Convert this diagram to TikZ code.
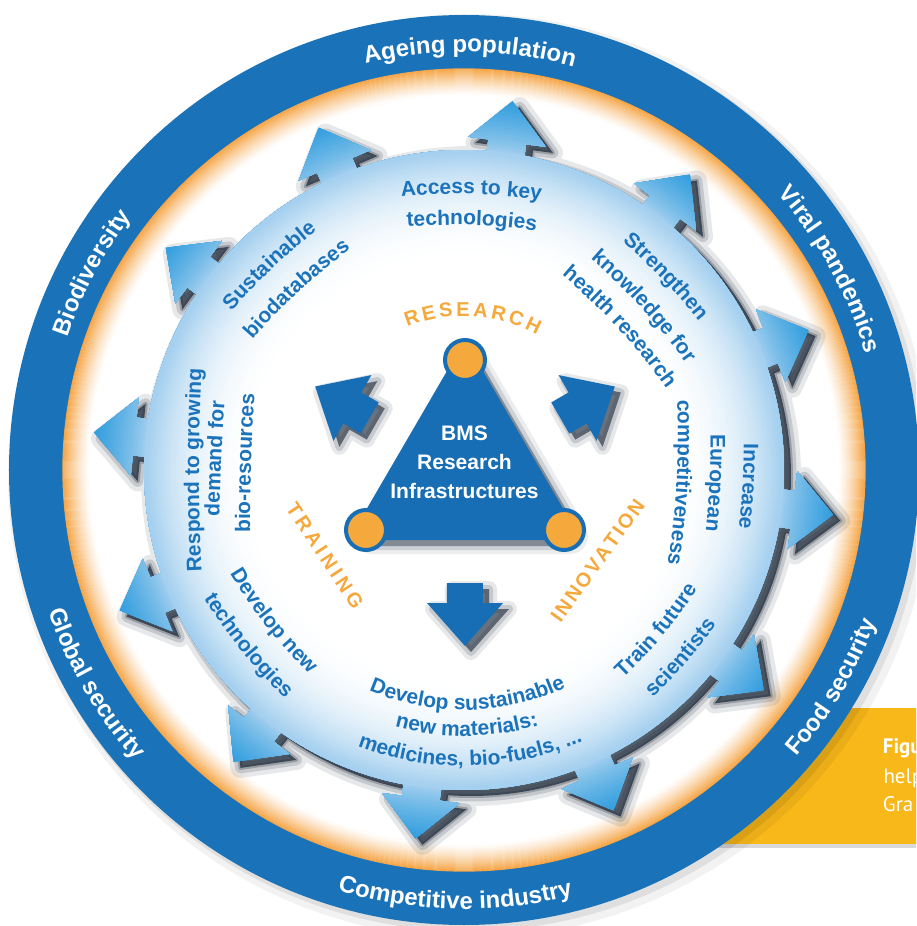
\documentclass[tikz,border=0pt]{standalone}
\usepackage{fontspec}
\setmainfont{Liberation Sans}
\newfontfamily\capfont{PT Sans}
\usetikzlibrary{decorations.text}
\definecolor{ringblue}{RGB}{26,115,185}
\definecolor{triblue}{RGB}{24,110,180}
\definecolor{txtblue}{RGB}{27,115,187}
\definecolor{orng}{RGB}{245,168,60}
\definecolor{glow}{RGB}{245,165,70}
\definecolor{diskedge}{RGB}{165,208,239}
\definecolor{tipblue}{RGB}{50,158,222}
\definecolor{shad}{RGB}{22,35,52}
\definecolor{gold}{RGB}{249,184,26}

\newcommand{\infmt}{\color{txtblue}\bfseries\fontsize{21}{21}\selectfont}
\newcommand{\ringfmt}{\color{white}\bfseries\fontsize{24}{24}\selectfont}
\newcommand{\orfmt}{\color{orng}\bfseries\fontsize{20}{20}\selectfont}

\newcommand{\gearpath}{([rotate=-247]319.435,-19) \foreach \a/\b in {-247/-216.7,-216.7/-185.8,-185.8/-157.8,-157.8/-128.3,-128.3/-97.5,-97.5/-66.3,-66.3/-36.3,-36.3/-6.9,-6.9/22.1,22.1/52.6,52.6/82.5,82.5/113}{ -- ([rotate=\a]331,-19) -- ([rotate=\a]331,-39) -- ([rotate=\a]372,0) -- ([rotate=\a]331,39) -- ([rotate=\a]331,19) -- ([rotate=\a]319.435,19) arc[start angle=\a+3.404,end angle=\b-3.404,radius=320]} -- cycle}
\newcommand{\trianglepath}{(1,110) -- (-98,-60) -- (100,-60) -- cycle}
\newcommand{\inarrowpath}{(110,-18) -- (130,-18) -- (130,-38) -- (173,0) -- (130,38) -- (130,18) -- (110,18) -- cycle}

% #1 mid angle, #2 baseline radius, #3 curvature radius, #4 1=clockwise/-1=counterclockwise, #5 format, #6 text
\newcommand{\arclabel}[6]{%
  \pgfmathsetmacro{\alOx}{(#2-#3)*cos(#1)}%
  \pgfmathsetmacro{\alOy}{(#2-#3)*sin(#1)}%
  \pgfmathsetmacro{\alD}{min(80,9740/#3)}%
  \pgfmathsetmacro{\alSa}{#1+(#4)*\alD}%
  \pgfmathsetmacro{\alEa}{#1-(#4)*\alD}%
  \pgfmathsetmacro{\alSx}{\alOx+#3*cos(\alSa)}%
  \pgfmathsetmacro{\alSy}{\alOy+#3*sin(\alSa)}%
  \path[decorate,decoration={text along path,text align=center,text={|#5|#6}}] (\alSx,\alSy) arc[start angle=\alSa,end angle=\alEa,radius=#3];%
}

\tikzset{
  captext/.style={anchor=base west, inner sep=0pt, text=white, font=\capfont\fontsize{21}{21}\selectfont},
  tritext/.style={anchor=base, inner sep=0pt, text=white, font=\bfseries\fontsize{21}{21}\selectfont},
  vtx/.style={circle, fill=orng, draw=triblue, line width=4pt, minimum size=40pt, inner sep=0pt},
  shadowline/.style={shad, line join=round},
}

\begin{document}
\begin{tikzpicture}[x=1pt,y=1pt]
\useasboundingbox (-464,-456) rectangle (452,470);
\fill[white] (-464,-456) rectangle (452,470);

% caption box (cut by the page edge)
\begin{scope}
  \clip (-464,-456) rectangle (452,470);
  \fill[black,opacity=0.15] (228,-242) rectangle (470,-378);
  \fill[gold] (226,-238) rectangle (470,-374);
  \node[captext,font=\capfont\bfseries\fontsize{21}{21}\selectfont] (cap1) at (418.7,-283) {Figu};
  \node[captext] (cap2) at (419.3,-313) {help};
  \node[captext] (cap3) at (418.7,-341) {Gra};
  \fill[black,opacity=0.05] (6,-6) circle[radius=462];
  \fill[black,opacity=0.08] (4,-4) circle[radius=457];
\end{scope}

% outer ring
\fill[ringblue] (0,0) circle[radius=455];
\fill[white] (0,0) circle[radius=401];
\foreach \i in {0,...,26}{\pgfmathsetmacro{\glowpc}{100*(1-\i/27)^1.3}\draw[glow!\glowpc!white,line width=1.3pt] (0,0) circle[radius=401-\i];}

% gear shadow
\begin{scope}[shift={(7,-6)}]
  \draw[shadowline,opacity=0.10,line width=20pt] \gearpath;
  \draw[shadowline,opacity=0.16,line width=11pt] \gearpath;
  \draw[shadowline,opacity=0.25,line width=4pt] \gearpath;
  \fill[shad,opacity=0.7] \gearpath;
\end{scope}

% gear fill
\begin{scope}
  \clip \gearpath;
  \fill[tipblue] (0,0) circle[radius=380];
  \foreach \r in {372,370,...,320}{\pgfmathsetmacro{\glowpc}{100*((\r-320)/52)^0.8}\fill[tipblue!\glowpc!diskedge] (0,0) circle[radius=\r];}
  \foreach \r in {318,316,...,210}{\pgfmathsetmacro{\glowpc}{100*((\r-208)/110)^2.2}\fill[diskedge!\glowpc!white] (0,0) circle[radius=\r];}
\end{scope}

% inner texts
\arclabel{88.5}{276}{600}{1}{\infmt}{Access to key}
\arclabel{88.2}{245}{600}{1}{\infmt}{technologies}
\arclabel{133.6}{278}{600}{1}{\infmt}{Sustainable}
\arclabel{132.8}{243}{600}{1}{\infmt}{biodatabases}
\arclabel{43.8}{275}{600}{1}{\infmt}{Strengthen}
\arclabel{42.3}{240}{600}{1}{\infmt}{knowledge for}
\arclabel{42.6}{209}{600}{1}{\infmt}{health research}
\arclabel{180}{265}{2000}{1}{\infmt}{Respond to growing}
\arclabel{177.4}{243}{2000}{1}{\infmt}{demand for}
\arclabel{178.2}{213}{2000}{1}{\infmt}{bio-resources}
\arclabel{-3.3}{279}{800}{1}{\infmt}{Increase}
\arclabel{-2.9}{246}{800}{1}{\infmt}{European}
\arclabel{-3.3}{213}{800}{1}{\infmt}{competitiveness}
\arclabel{-141.6}{252}{500}{-1}{\infmt}{Develop new}
\arclabel{-140.9}{287}{500}{-1}{\infmt}{technologies}
\arclabel{-39.9}{259}{500}{-1}{\infmt}{Train future}
\arclabel{-40.9}{294}{500}{-1}{\infmt}{scientists}
\arclabel{-89.1}{240}{240}{-1}{\infmt}{Develop sustainable}
\arclabel{-89.35}{266}{266}{-1}{\infmt}{new materials:}
\arclabel{-88.7}{296}{296}{-1}{\infmt}{medicines, bio-fuels, ...}

% shadows of triangle and inner arrows
\begin{scope}[shift={(6,-6)}]
  \draw[shadowline,opacity=0.08,line width=36pt] \trianglepath;
  \draw[shadowline,opacity=0.14,line width=28pt] \trianglepath;
  \draw[shadowline,opacity=0.4,line width=20pt] \trianglepath;
  \fill[shad,opacity=0.4] \trianglepath;
\end{scope}
\foreach \ang in {150,30,270}{
  \begin{scope}[shift={(7,-9)},rotate=\ang]
    \draw[shadowline,opacity=0.10,line width=16pt] \inarrowpath;
    \draw[shadowline,opacity=0.16,line width=8pt] \inarrowpath;
    \fill[shad,opacity=0.6] \inarrowpath;
  \end{scope}
}

% triangle and arrows
\fill[triblue] \trianglepath;
\draw[triblue,line width=20pt,line join=round] \trianglepath;
\foreach \ang in {150,30,270}{
  \begin{scope}[shift={(1,-3)},rotate=\ang]
    \fill[triblue] \inarrowpath;
  \end{scope}
}
\node[vtx] (vtop) at (1,110) {};
\node[vtx] (vleft) at (-98,-60) {};
\node[vtx] (vright) at (100,-60) {};
\node[tritext] (t1) at (0.5,30) {BMS};
\node[tritext] (t2) at (0.5,1) {Research};
\node[tritext] (t3) at (0.5,-28) {Infrastructures};

% orange labels
\path[decorate,decoration={text along path,text align=fit to path,text={|\orfmt|RESEARCH}}] (111.7:154) arc[start angle=111.7,end angle=61.7,radius=154];
\path[decorate,decoration={text along path,text align=fit to path,text={|\orfmt|TRAINING}}] (-178.7,-38.1) -- (-110.9,-140.7);
\path[decorate,decoration={text along path,text align=fit to path,text={|\orfmt|INNOVATION}}] (96.6,-153.8) -- (181.8,-35.4);

% ring labels
\arclabel{89.2}{418}{418}{1}{\ringfmt}{Ageing population}
\arclabel{28.75}{418}{418}{1}{\ringfmt}{Viral pandemics}
\arclabel{152.1}{418}{418}{1}{\ringfmt}{Biodiversity}
\arclabel{-30.55}{439}{439}{-1}{\ringfmt}{Food security}
\arclabel{-91.2}{439}{439}{-1}{\ringfmt}{Competitive industry}
\arclabel{-149.9}{439}{439}{-1}{\ringfmt}{Global security}
\end{tikzpicture}
\end{document}
